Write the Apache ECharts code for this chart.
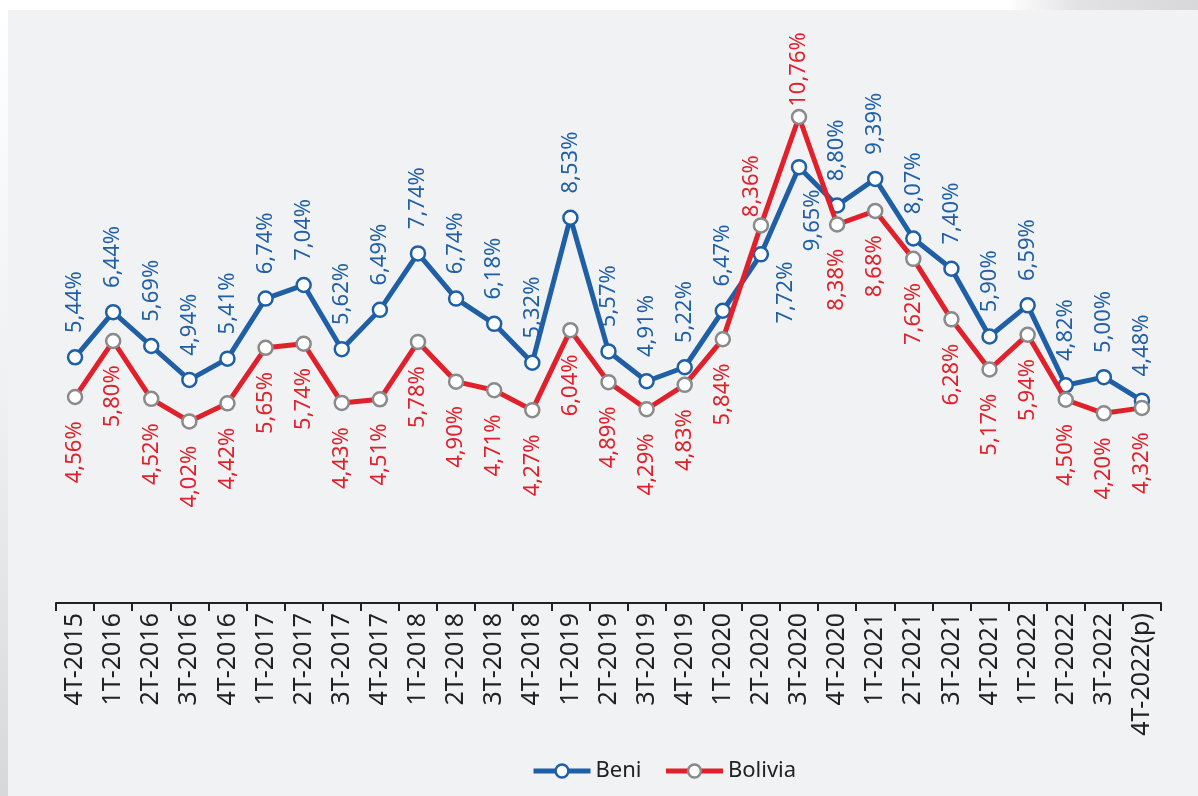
<!DOCTYPE html>
<html>
<head>
<meta charset="utf-8">
<script src="https://cdn.jsdelivr.net/npm/echarts@6/dist/echarts.min.js"></script>
<style>
    html, body { margin: 0; padding: 0; background: #fff; }
    #chart { width: 1198px; height: 796px; }
</style>
</head>
<body>
<div id="chart"></div>
<script>
    // trimestres
    var quarters = ['4T-2015', '1T-2016', '2T-2016', '3T-2016', '4T-2016', '1T-2017', '2T-2017', '3T-2017',
        '4T-2017', '1T-2018', '2T-2018', '3T-2018', '4T-2018', '1T-2019', '2T-2019', '3T-2019', '4T-2019',
        '1T-2020', '2T-2020', '3T-2020', '4T-2020', '1T-2021', '2T-2021', '3T-2021', '4T-2021', '1T-2022',
        '2T-2022', '3T-2022', '4T-2022(p)'];
    var beni = [5.44, 6.44, 5.69, 4.94, 5.41, 6.74, 7.04, 5.62, 6.49, 7.74, 6.74, 6.18, 5.32, 8.53, 5.57, 4.91,
        5.22, 6.47, 7.72, 9.65, 8.80, 9.39, 8.07, 7.40, 5.90, 6.59, 4.82, 5.00, 4.48];
    var bolivia = [4.56, 5.80, 4.52, 4.02, 4.42, 5.65, 5.74, 4.43, 4.51, 5.78, 4.90, 4.71, 4.27, 6.04, 4.89, 4.29,
        4.83, 5.84, 8.36, 10.76, 8.38, 8.68, 7.62, 6.28, 5.17, 5.94, 4.50, 4.20, 4.32];

    var blue = '#1f5fa6';
    var red = '#e0202a';
    var font = 'Noto Sans';

    var labelTop = { position: 'top', align: 'left', verticalAlign: 'middle' };
    var labelBottom = { position: 'bottom', align: 'right', verticalAlign: 'middle' };

    // etiquetas que cambian de lado (offset va en el marco girado del texto)
    var beniLabelFix = {
        18: { position: 'bottom', align: 'right', verticalAlign: 'middle', offset: [17, 25] },
        19: { position: 'bottom', align: 'right', verticalAlign: 'middle', offset: [2, 14] }
    };
    var boliviaLabelFix = {
        18: { position: 'top', align: 'left', verticalAlign: 'middle', offset: [-16, -9] },
        19: { position: 'top', align: 'left', verticalAlign: 'middle', offset: [-14, 0] }
    };

    function pct(p) {
        return p.value.toFixed(2).replace('.', ',') + '%';
    }

    function buildData(values, fix) {
        var out = [];
        for (var i = 0; i < values.length; i++) {
            var item = { value: values[i] };
            if (fix[i]) item.label = fix[i];
            out.push(item);
        }
        return out;
    }

    var myChart = echarts.init(document.getElementById('chart'));
    var option = {
        backgroundColor: '#f1f2f4',
        animation: false,
        textStyle: { fontFamily: font },
        graphic: [
            {
                type: 'rect', left: 0, top: 0, z: -1,
                shape: { width: 1198, height: 10 },
                style: {
                    fill: new echarts.graphic.LinearGradient(0, 0, 1, 0, [
                        { offset: 0, color: '#ffffff' },
                        { offset: 0.84, color: '#ffffff' },
                        { offset: 0.9, color: '#e2e2e4' },
                        { offset: 1, color: '#d8d8da' }
                    ])
                }
            },
            {
                type: 'rect', left: 0, top: 10, z: -1,
                shape: { width: 8, height: 786 },
                style: {
                    fill: new echarts.graphic.LinearGradient(0, 0, 0, 1, [
                        { offset: 0, color: '#ffffff' },
                        { offset: 0.5, color: '#f0f0f2' },
                        { offset: 1, color: '#d8d8da' }
                    ])
                }
            }
        ],
        grid: {
            left: 56,
            right: 37,
            top: 61,
            bottom: 193,
            containLabel: false,
            outerBoundsMode: 'none'
        },
        legend: {
            left: 526,
            top: 755,
            itemWidth: 57,
            itemHeight: 16,
            itemGap: 22,
            lineStyle: { width: 5 },
            itemStyle: { borderWidth: 2.5 },
            textStyle: { fontSize: 22, color: '#222', fontFamily: font },
            data: ['Beni', 'Bolivia']
        },
        xAxis: {
            type: 'category',
            data: quarters,
            boundaryGap: true,
            axisLine: { lineStyle: { color: '#222', width: 2 } },
            axisTick: { show: true, length: 8, alignWithLabel: false, lineStyle: { color: '#222', width: 2 } },
            axisLabel: {
                interval: 0,
                rotate: 90,
                margin: 10,
                fontSize: 25,
                color: '#222',
                fontFamily: font
            }
        },
        yAxis: {
            type: 'value',
            min: 0,
            max: 12,
            show: false,
            splitLine: { show: false }
        },
        series: [
            {
                name: 'Beni',
                type: 'line',
                data: buildData(beni, beniLabelFix),
                symbol: 'circle',
                symbolSize: 14,
                lineStyle: { color: blue, width: 5 },
                itemStyle: { color: '#fff', borderColor: blue, borderWidth: 2.5 },
                label: Object.assign({
                    show: true,
                    rotate: 90,
                    distance: 16,
                    fontSize: 22,
                    color: blue,
                    fontFamily: font,
                    formatter: pct
                }, labelTop),
                z: 2
            },
            {
                name: 'Bolivia',
                type: 'line',
                data: buildData(bolivia, boliviaLabelFix),
                symbol: 'circle',
                symbolSize: 14,
                lineStyle: { color: red, width: 5 },
                itemStyle: { color: '#fff', borderColor: '#8a8a8a', borderWidth: 2.5 },
                label: Object.assign({
                    show: true,
                    rotate: 90,
                    distance: 16,
                    fontSize: 22,
                    color: red,
                    fontFamily: font,
                    formatter: pct
                }, labelBottom),
                z: 3
            }
        ]
    };
    myChart.setOption(option);
</script>
</body>
</html>
